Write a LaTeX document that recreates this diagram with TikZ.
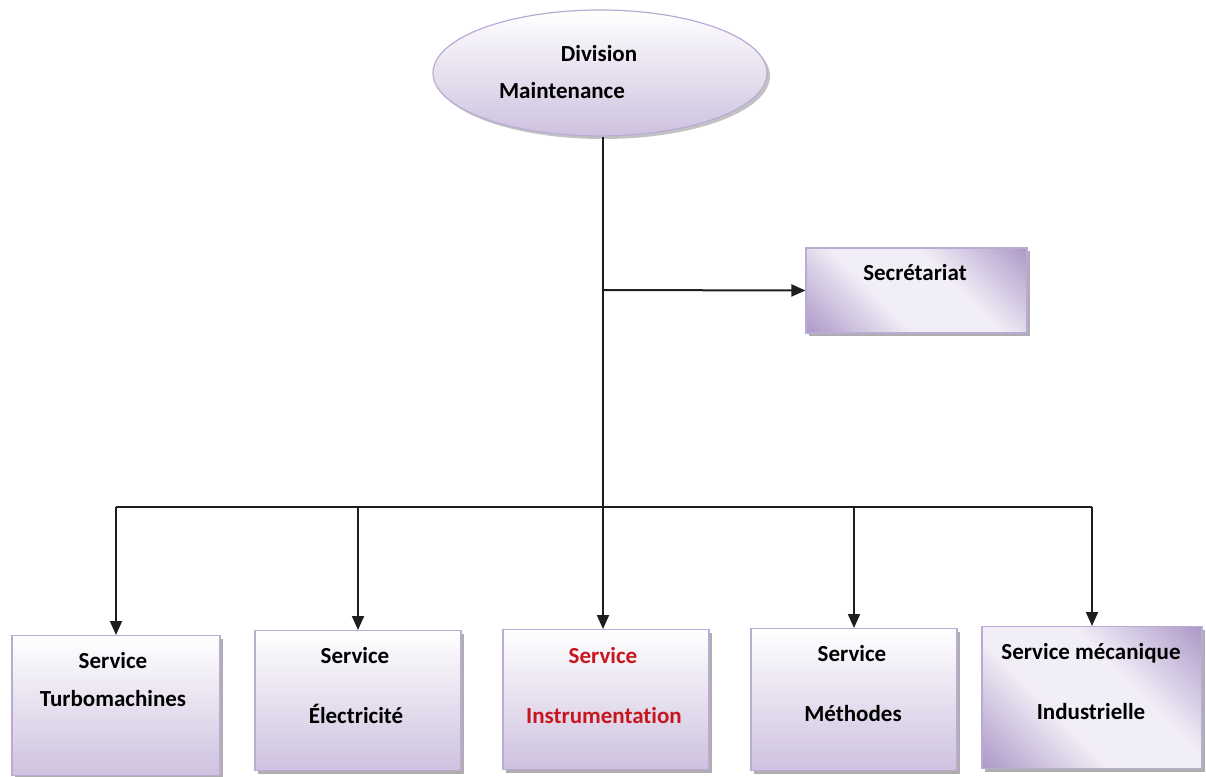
\documentclass[tikz,border=0pt]{standalone}
\usepackage{fontspec}
\setmainfont{Carlito}[Ligatures=NoCommon]
\usetikzlibrary{arrows.meta,shapes.geometric,shadows}

\definecolor{lavline}{RGB}{186,170,212}
\definecolor{lavfill}{RGB}{206,193,223}
\definecolor{lavdeep}{RGB}{170,150,198}
\definecolor{lavpale}{RGB}{242,238,247}
\definecolor{linegray}{RGB}{30,30,30}
\definecolor{svcred}{RGB}{200,22,30}

% diagonal sheen: purple at both ends, broad pale band in the middle
\pgfdeclarehorizontalshading{sheen}{100bp}{
  color(0bp)=(lavdeep); color(14bp)=(lavdeep); color(40bp)=(lavpale);
  color(60bp)=(lavpale); color(86bp)=(lavdeep); color(100bp)=(lavdeep)}

\tikzset{
  unitbox/.style={draw=lavline, line width=1.2pt, rectangle, inner sep=0pt,
    top color=white, bottom color=lavfill,
    drop shadow={shadow xshift=3pt, shadow yshift=-3pt, fill=black!45, opacity=0.7}},
  glossbox/.style={draw=lavline, line width=1.2pt, rectangle, inner sep=0pt,
    shading=sheen, shading angle=45,
    drop shadow={shadow xshift=3pt, shadow yshift=-3pt, fill=black!45, opacity=0.7}},
  headoval/.style={draw=lavline, line width=1.2pt, ellipse, inner sep=0pt,
    top color=white, bottom color=lavfill,
    drop shadow={shadow xshift=3pt, shadow yshift=-3pt, fill=black!40, opacity=0.6}},
  lbl/.style={font=\bfseries\fontsize{23}{27}\selectfont, text=black, anchor=mid, inner sep=0pt},
  redlbl/.style={lbl, text=svcred},
  link/.style={draw=linegray, line width=2pt},
  arrowlink/.style={link, -{Triangle[width=12pt,length=14pt]}}
}

\begin{document}
\begin{tikzpicture}[x=1pt, y=-1pt]
\useasboundingbox (0,0) rectangle (1206,776);

% head of the division
\node[headoval, minimum width=334pt, minimum height=126pt] (div) at (600,73) {};
\node[lbl] (divA) at (599,59) {Division};
\node[lbl] (divB) at (562,96) {Maintenance};

% secretariat
\node[glossbox, minimum width=221pt, minimum height=85pt] (sec) at (916.5,290.5) {};
\node[lbl] (secT) at (915,278) {Secrétariat};

% services
\node[unitbox, minimum width=208pt, minimum height=140pt, anchor=north] (s1) at (116,635) {};
\node[unitbox, minimum width=206pt, minimum height=140pt, anchor=north] (s2) at (358,630) {};
\node[unitbox, minimum width=206pt, minimum height=140pt, anchor=north] (s3) at (606,629) {};
\node[unitbox, minimum width=206pt, minimum height=142pt, anchor=north] (s4) at (854,628) {};
\node[glossbox, minimum width=220pt, minimum height=142pt, anchor=north] (s5) at (1092,626) {};

\node[lbl] (s1a) at (113,666) {Service};
\node[lbl] (s1b) at (113,704) {Turbomachines};
\node[lbl] (s2a) at (355,661) {Service};
\node[lbl] (s2b) at (356,721) {Électricité};
\node[redlbl] (s3a) at (603,661) {Service};
\node[redlbl] (s3b) at (604,721) {Instrumentation};
\node[lbl] (s4a) at (852,659) {Service};
\node[lbl] (s4b) at (853,719) {Méthodes};
\node[lbl] (s5a) at (1091,657) {Service mécanique};
\node[lbl] (s5b) at (1091,717) {Industrielle};

% connectors
\coordinate (trunk) at (603,137);
\coordinate (fork) at (603,290);
\coordinate (bus) at (603,507);

\draw[arrowlink] (trunk) -- (trunk |- s3.north);
\draw[arrowlink] (fork) -- (sec.west);
\draw[link] (s1.north |- bus) -- (s5.north |- bus);
\draw[arrowlink] (s1.north |- bus) -- (s1.north);
\draw[arrowlink] (s2.north |- bus) -- (s2.north);
\draw[arrowlink] (s4.north |- bus) -- (s4.north);
\draw[arrowlink] (s5.north |- bus) -- (s5.north);
\end{tikzpicture}
\end{document}
